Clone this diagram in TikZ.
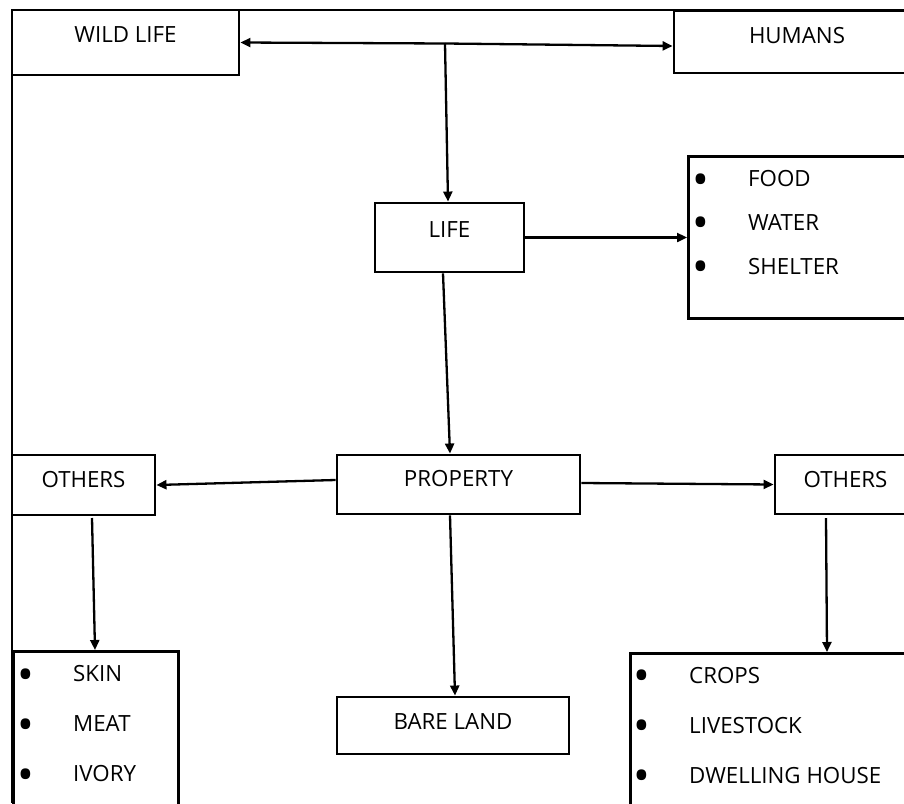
\documentclass[tikz,border=0pt]{standalone}
\usepackage{fontspec}
\usepackage{graphicx}
\setmainfont{Open Sans}
\usetikzlibrary{arrows.meta}
\tikzset{
  box/.style={draw=black, line width=2.9pt, inner sep=0pt, text height=16pt,
    font=\fontsize{22.3}{26}\selectfont},
  itm/.style={inner sep=0pt, anchor=base west, font=\fontsize{22.3}{26}\selectfont},
  arr/.style={line width=2.3pt, -{Triangle[length=10pt,width=9pt]}},
  frame/.style={line width=2.4pt},
}
\newcommand{\bul}[1]{\llap{\makebox[94pt]{\raisebox{-8.5pt}{\scalebox{2}{\textbullet}}}}#1}
\begin{document}
\begin{tikzpicture}[x=1pt,y=-1pt]
\useasboundingbox (0,0) rectangle (904,803);
\clip (0,0) rectangle (904,803);
\fill[white] (0,0) rectangle (904,803);
% outer frame
\draw[frame] (12,10) -- (904,10);
\draw[frame] (12,10) -- (12,803);
% boxes
\node[box, minimum width=227pt, minimum height=65pt, text depth=16pt] (wild) at (125.5,42.5) {WILD LIFE};
\node[box, minimum width=246pt, minimum height=62pt, text depth=13pt] (hum) at (797,42) {HUMANS};
\node[box, minimum width=149pt, minimum height=69pt, text depth=17pt] (life) at (449.5,237.5) {LIFE};
\node[box, minimum width=260pt, minimum height=162pt, anchor=north west] (needs) at (687,155) {};
\node[box, minimum width=243pt, minimum height=59pt, text depth=13pt] (prop) at (458.5,484.5) {PROPERTY};
\node[box, minimum width=143pt, minimum height=60pt, text depth=11pt] (oth1) at (83.5,485) {OTHERS};
\node[box, minimum width=141pt, minimum height=59pt, text depth=11pt] (oth2) at (845.5,484.5) {OTHERS};
\node[box, minimum width=165pt, minimum height=190pt, anchor=north west] (wildp) at (12,650) {};
\node[box, minimum width=232pt, minimum height=57pt, text depth=8pt] (bare) at (453,725.5) {BARE LAND};
\node[box, minimum width=300pt, minimum height=190pt, anchor=north west] (humanp) at (629,652) {};
% list items
\node[itm] (n1) at (748,186.5) {\bul{FOOD}};
\node[itm] (n2) at (748,230) {\bul{WATER}};
\node[itm] (n3) at (748,274) {\bul{SHELTER}};
\node[itm] (w1) at (73,681.5) {\bul{SKIN}};
\node[itm] (w2) at (73,731.5) {\bul{MEAT}};
\node[itm] (w3) at (73,781.5) {\bul{IVORY}};
\node[itm] (h1) at (689,683) {\bul{CROPS}};
\node[itm] (h2) at (689,733) {\bul{LIVESTOCK}};
\node[itm] (h3) at (689,783) {\bul{DWELLING HOUSE}};
% connectors
\coordinate (j) at (445,43.5);
\draw[arr] (j) -- (wild.east);
\draw[arr] (j) -- ([yshift=-4pt]hum.west);
\draw[arr] (j) -- ([xshift=-1.5pt]life.north);
\draw[arr] (life.east) -- (needs.west |- life.east);
\draw[arr] ([xshift=-6.5pt]life.south) -- ([xshift=-8.5pt]prop.north);
\draw[arr] ([yshift=4.5pt]prop.west) -- (oth1.east);
\draw[arr] ([yshift=1.5pt]prop.east) -- (oth2.west);
\coordinate (o1s) at (92,518);
\draw[arr] (o1s) -- (wildp.north -| 95,0);
\draw[arr] ([xshift=-8.5pt]prop.south) -- ([xshift=2pt]bare.north);
\coordinate (o2s) at (826,518);
\draw[arr] (o2s) -- (humanp.north -| 827,0);
\end{tikzpicture}
\end{document}
